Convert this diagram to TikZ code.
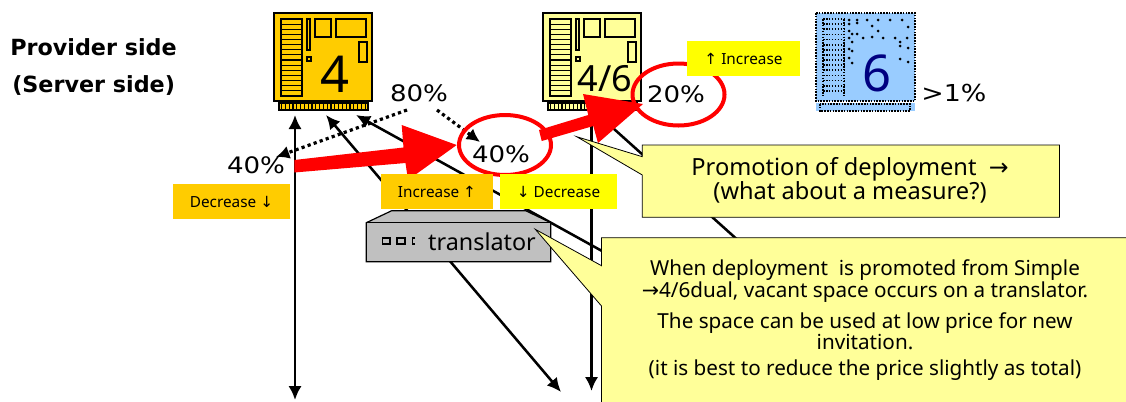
\documentclass[tikz,border=0pt]{standalone}
\usepackage{fontspec}
\setmainfont{Noto Sans}
\newfontfamily\verd[FakeStretch=1.15]{DejaVu Sans}
\newfontfamily\arrowf{DejaVu Sans}
\newfontfamily\headf{DejaVu Sans}
\usetikzlibrary{arrows.meta}
\definecolor{orangeb}{HTML}{FFCC00}
\definecolor{yelb}{HTML}{FFFF00}
\definecolor{pale}{HTML}{FFFF99}
\definecolor{blueb}{HTML}{99CCFF}
\definecolor{gr}{HTML}{C0C0C0}
\definecolor{navy6}{HTML}{000080}
\tikzset{
 x=0.75pt,y=-0.75pt,
 conn/.style={black,line width=1.9pt,{Latex[length=10.5pt,width=10pt]}-{Latex[length=10.5pt,width=10pt]}},
 connb/.style={black,line width=1.9pt,-{Latex[length=10.5pt,width=10pt]}},
 dotarrow/.style={black,line width=2.4pt,dash pattern=on 2.4pt off 2.4pt,-{Latex[length=10pt,width=10pt]}},
 redarrow/.style={fill=red,draw=none},
 ring/.style={draw=red,line width=3pt,fill=none},
 tagbox/.style={inner sep=0pt,font=\fontsize{11.5}{13}\selectfont},
 pct/.style={font=\verd\fontsize{17}{19}\selectfont,inner sep=0pt},
 headtext/.style={inner sep=0pt,anchor=west,font=\headf\bfseries\fontsize{16.7}{19}\selectfont},
 callout/.style={fill=pale,draw=black,line width=0.6pt},
 chipline/.style={line width=0.85pt},
 c2text/.style={inner sep=0pt,align=center,font=\fontsize{15.5}{16}\selectfont},
}
\newcommand{\chipbody}[2]{%
 \begin{scope}[shift={(#2,0)}]
  \fill[#1] (5,90) rectangle (94,97);
  \draw[chipline] (5,90) rectangle (94,97);
  \foreach \i in {0,...,22}{\draw[line width=0.9pt] ({7.5+\i*3.8},90) -- ({7.5+\i*3.8},97);}
  \filldraw[fill=#1,chipline] (0,0) rectangle (98,88);
  \draw[chipline] (7,6) rectangle (28,83);
  \foreach \i in {1,...,14}{\draw[chipline] (7,{6+\i*5.13}) -- (28,{6+\i*5.13});}
  \draw[chipline] (33,6) rectangle (36,37);
  \draw[chipline] (33,44) rectangle (37,48);
  \draw[chipline] (41,6) rectangle (57,24);
  \draw[chipline] (62,6) rectangle (92,24);
  \draw[chipline] (85,29) rectangle (93,49);
 \end{scope}}
\begin{document}
\begin{tikzpicture}
\useasboundingbox (0,0) rectangle (1126,401);
\fill[white] (0,0) rectangle (1126,401);
% connectors behind everything
\coordinate (a1t) at (295,115); \coordinate (a1b) at (295,400);
\coordinate (a2t) at (326,115); \coordinate (a2b) at (561,392);
\coordinate (a3t) at (356,115); \coordinate (a3b) at (640,272);
\coordinate (a4t) at (591.5,120); \coordinate (a4b) at (591.5,391);
\coordinate (a5t) at (604,120); \coordinate (a5b) at (760,260);
\draw[conn] (a1t) -- (a1b);
\draw[conn] (a2t) -- (a2b);
\draw[connb] (a3b) -- (a3t);
\draw[connb] (a4t) -- (a4b);
\draw[connb] (a5t) -- (a5b);
% chips
\begin{scope}[yshift=-9.75pt]
\chipbody{orangeb}{274}
\chipbody{pale}{543}
\end{scope}
\node[inner sep=0pt,font=\fontsize{38}{40}\selectfont] (four) at (335,74) {4};
\node[inner sep=0pt,font=\fontsize{27}{29}\selectfont] (fs) at (605,79) {4/6};
% chip six
\begin{scope}[yshift=-9.75pt]
\fill[blueb] (816,90) rectangle (915,98);
\fill[blueb] (816,0) rectangle (915,88);
\draw[line width=1.3pt,dash pattern=on 1.2pt off 0.9pt] (816,0) rectangle (915,88);
\draw[line width=1.3pt,dash pattern=on 1.2pt off 0.9pt] (820,91) rectangle (910,98);
\foreach \i in {0,...,14}{\draw[line width=1.3pt,dash pattern=on 1.2pt off 1pt] (823,{6+\i*5.13}) -- (844,{6+\i*5.13});}
\draw[line width=1.3pt,dash pattern=on 1.2pt off 1pt] (823,6) -- (823,83) (844,6) -- (844,83);
\foreach \p in {(849,7),(849,11),(857,7),(857,10),(867,7),(878,7),(890,7),(902,7),(872,13),(908,14),(878,18),(849,18),(852,21),(857,21),(863,25),(872,24),(883,25),(895,25),(907,25),(900,29),(900,33),(849,25),(852,29),(849,36),(852,38),(908,35),(849,45),(852,50),(900,46),(908,49)}
 {\fill \p circle (1.5);}
\end{scope}
\node[inner sep=0pt,text=navy6,font=\fontsize{38}{40}\selectfont] (six) at (877,73) {6};
\node[inner sep=0pt,font=\verd\fontsize{17.5}{19}\selectfont,anchor=west] (gt) at (921,93) {>1\%};
% side label
\node[headtext] (prov) at (10,47) {Provider side};
\node[headtext] (serv) at (12,86) {(Server side)};
% percentages
\node[pct] (p80) at (419,93) {80\%};
\node[pct] (p40l) at (256,165) {40\%};
\node[pct] (p40) at (501,154) {40\%};
\node[pct] (p20) at (676,94) {20\%};
\coordinate (d1s) at (407,110); \coordinate (d1e) at (276,157);
\coordinate (d2s) at (437,110); \coordinate (d2e) at (480,142);
\draw[dotarrow] (d1s) -- (d1e);
\draw[dotarrow] (d2s) -- (d2e);
% rings and red arrows
\draw[ring] (505,145) ellipse (46 and 30);
\draw[ring] (678.5,94.5) ellipse (46 and 31);
\fill[redarrow] (294.3,160) -- (403.5,147.5) -- (401.7,125) -- (456.7,145) -- (408,180) -- (405.5,163) -- (294.3,172.5) -- cycle;
\fill[redarrow] (539,130) -- (588.3,115) -- (583,94) -- (643,104) -- (598,143) -- (593.3,126) -- (541.7,141) -- cycle;
% tags
\node[fill=orangeb,minimum width=84pt,minimum height=26.25pt,tagbox] (incO) at (437,191.5) {Increase {\arrowf ↑}};
\node[fill=yelb,minimum width=87.75pt,minimum height=26.25pt,tagbox] (decY) at (558.5,191.5) {{\arrowf ↓} Decrease};
\node[fill=orangeb,minimum width=87.75pt,minimum height=26.25pt,tagbox] (decO) at (231.5,201.5) {Decrease {\arrowf ↓}};
\node[fill=yelb,minimum width=84.75pt,minimum height=26.25pt,tagbox] (incY) at (743.5,58.5) {{\arrowf ↑} Increase};
% translator
\filldraw[fill=gr,line width=0.9pt] (366.3,222.7) -- (391.7,210.7) -- (525.7,210.7) -- (550.7,222.7) -- (550.7,261.7) -- (366.3,261.7) -- cycle;
\draw[line width=0.9pt] (366.3,222.7) -- (550.7,222.7);
\draw[line width=0.8pt] (382.7,238) rectangle (390,244) (397,238) rectangle (405,244) (415,238) -- (412.5,238) -- (412.5,244) -- (415,244);
\node[inner sep=0pt,font=\fontsize{17.5}{20}\selectfont] (tr) at (482,241.7) {translator};
% callouts
\draw[callout] (642.3,145) -- (1059.5,145) -- (1059.5,217.3) -- (642.3,217.3) -- (642.3,175) -- (576.7,136.7) -- (642.3,156.7) -- cycle;
\node[inner sep=0pt,align=center,font=\fontsize{17.7}{18}\selectfont] (c1) at (850,180) {Promotion of deployment\ \ {\arrowf →}\\(what about a measure?)};
\draw[callout] (601.5,403) -- (601.5,306) -- (535.3,229.3) -- (601.5,265.7) -- (601.5,237.7) -- (1130,237.7) -- (1130,403) -- cycle;
\node[c2text] (c2) at (865,281) {When deployment\ \ is promoted from Simple\\{\arrowf →}4/6dual, vacant space occurs on a translator.};
\node[c2text] (c3) at (865,331) {The space can be used at low price for new\\invitation.};
\node[c2text] (c4) at (865,370) {(it is best to reduce the price slightly as total)};
\end{tikzpicture}
\end{document}
